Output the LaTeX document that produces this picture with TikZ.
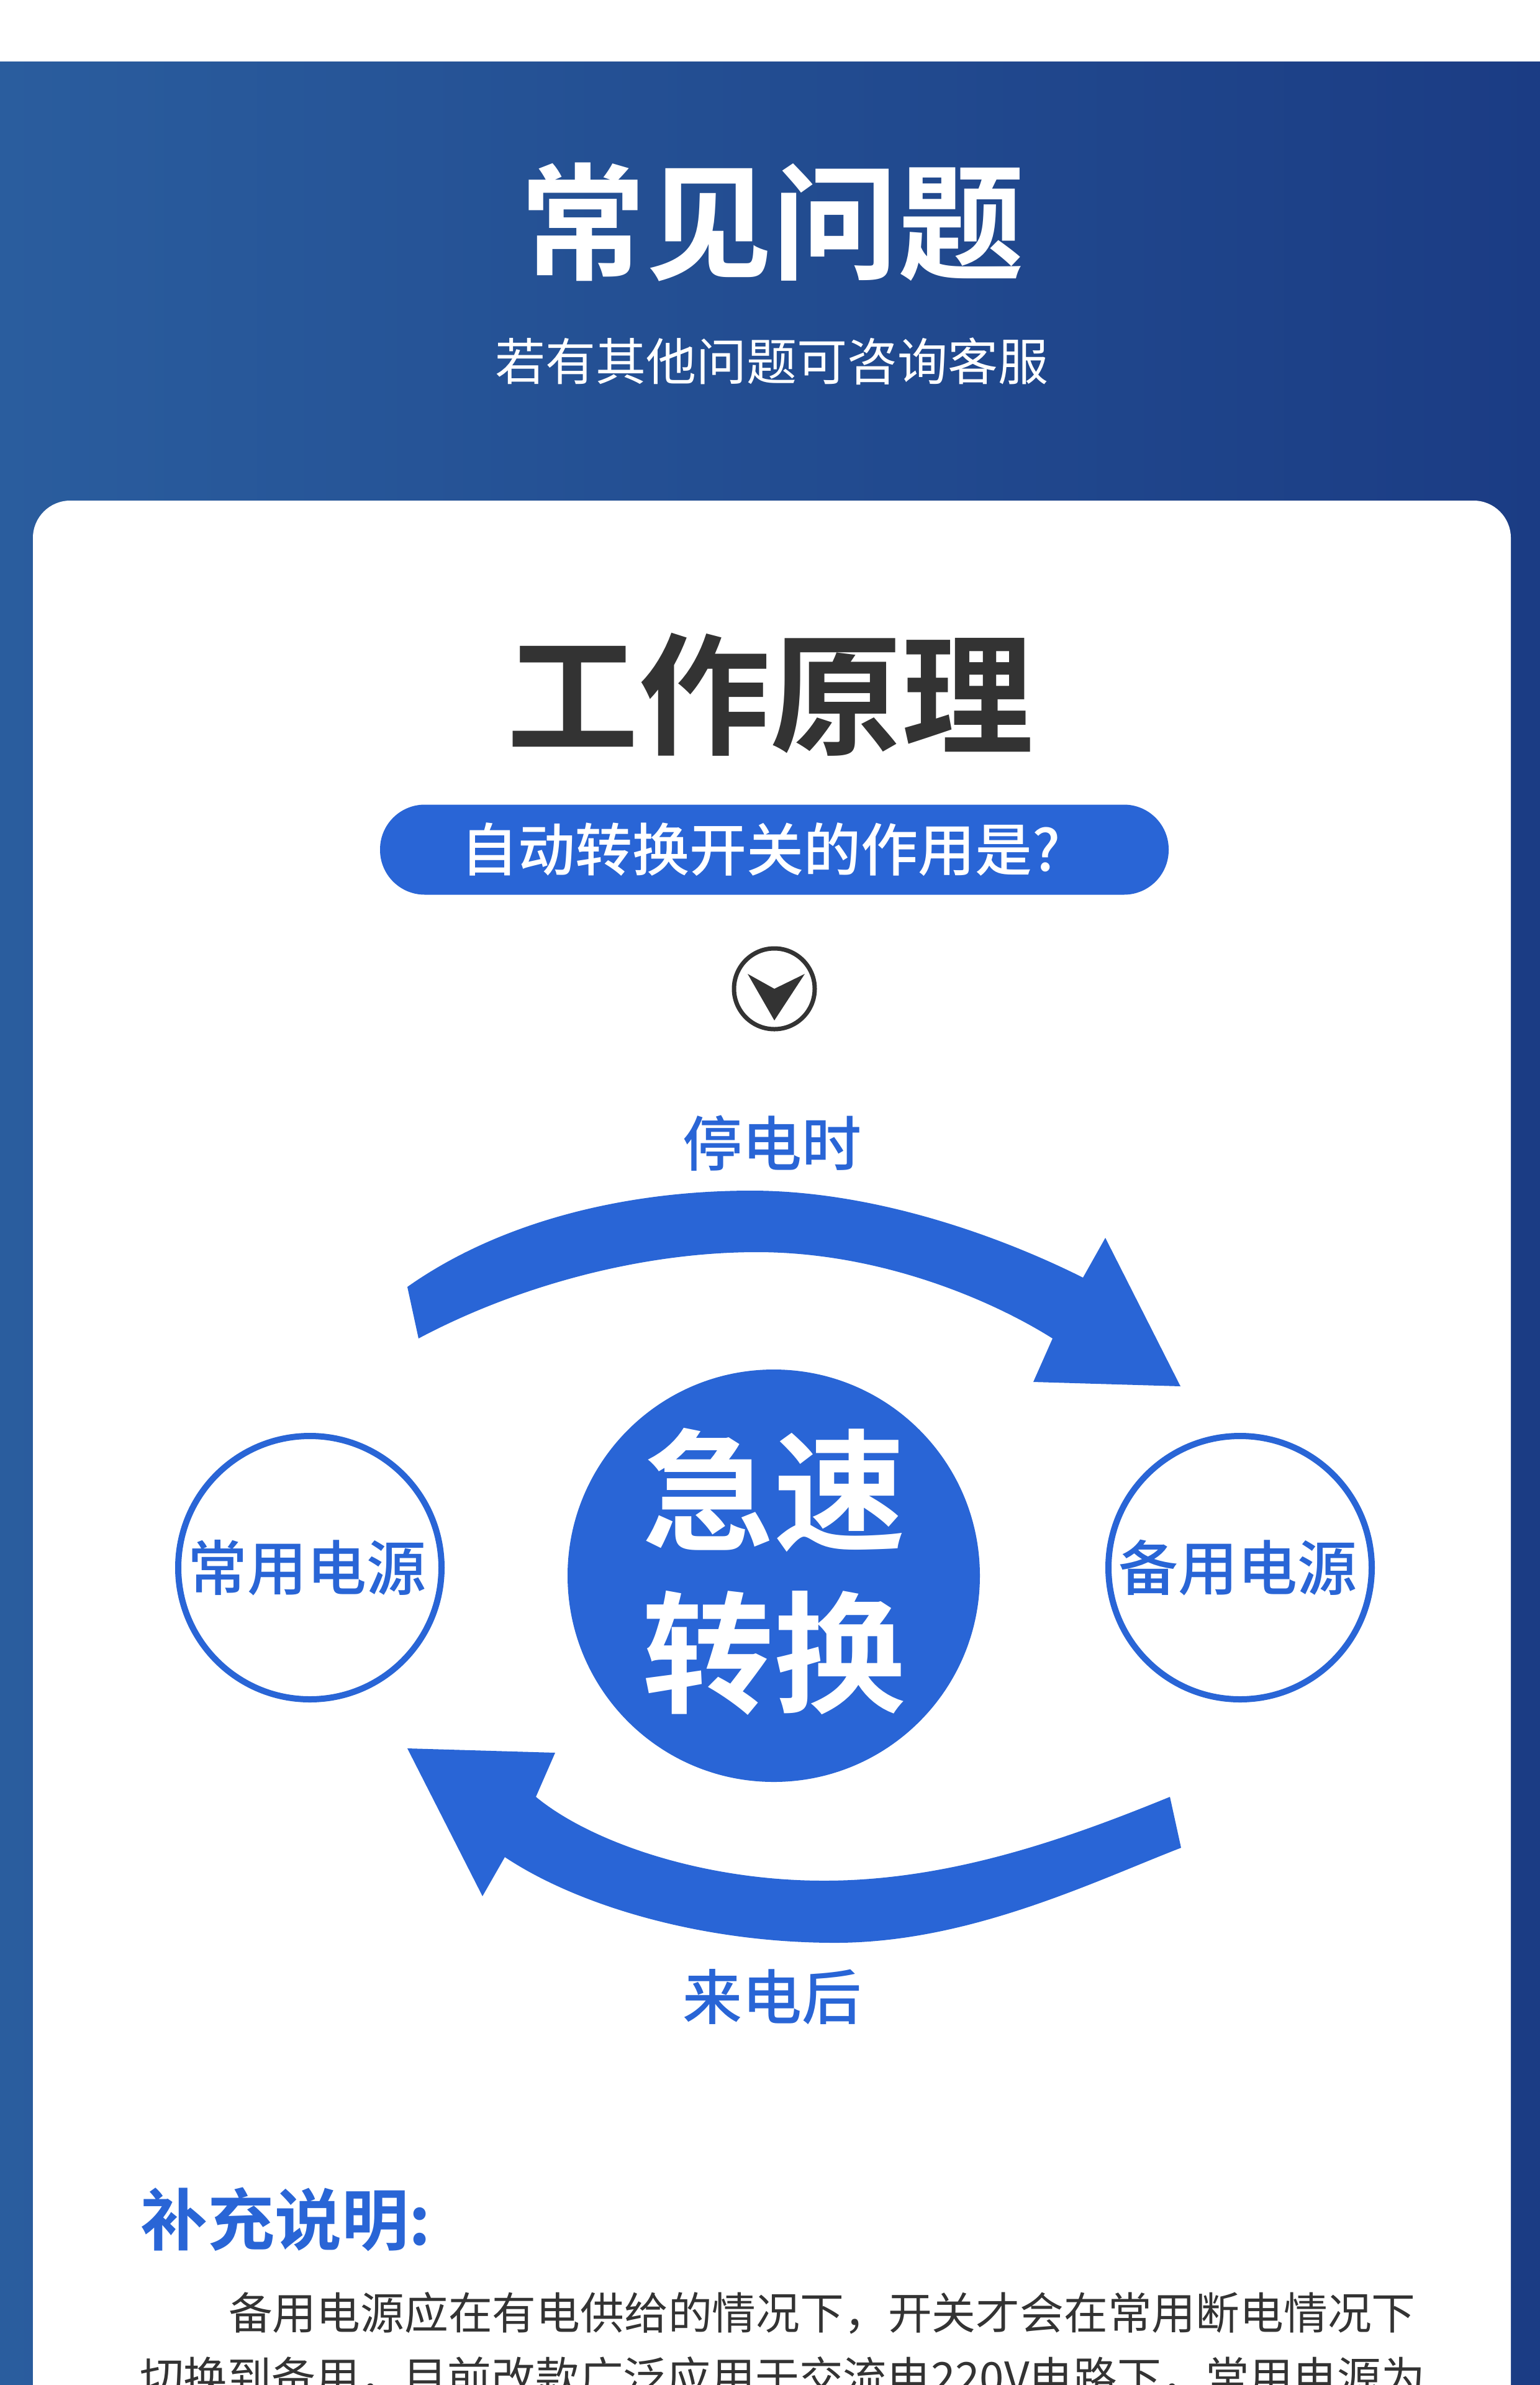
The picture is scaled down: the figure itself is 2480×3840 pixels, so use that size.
\documentclass[tikz,border=0pt]{standalone}
\usepackage{xcolor}
\usepackage{fontspec}
\setmainfont[BoldFont={Noto Sans CJK SC Bold}]{Noto Sans CJK SC}
\newfontfamily\midweight{Noto Sans CJK SC Medium}
\usetikzlibrary{shapes,positioning}
\definecolor{switchblue}{HTML}{2965D6}
\definecolor{darktext}{HTML}{333333}
\definecolor{bandleft}{HTML}{2A5D9E}
\definecolor{bandright}{HTML}{1B3C84}
\newcommand{\sized}[1]{\fontsize{#1}{#1}\selectfont}
\newcommand{\widecomma}{\symbol{"FF0C}}
\tikzset{
    plain/.style={inner sep=0pt, outer sep=0pt},
    sourcering/.style={plain, circle, draw=switchblue, line width=10pt, fill=white, minimum size=424pt, text=switchblue, font=\sized{96}\midweight},
    flowlabel/.style={plain, text=switchblue, font=\sized{96}\midweight},
    bodyline/.style={plain, anchor=west, text=darktext, font=\sized{70.8}}
}

\begin{document}
\begin{tikzpicture}[x=1pt, y=-1pt]
    \useasboundingbox (0,0) rectangle (2480,3840);
    \clip (0,0) rectangle (2480,3840);

    % Header band and white card
    \fill[white] (0,0) rectangle (2480,3840);
    \shade[left color=bandleft, right color=bandright] (0,100) rectangle (2480,3840);
    \fill[white, rounded corners=60pt] (53,806) rectangle (2433,3960);

    % Header texts
    \node[plain, text=white, font=\sized{203}\bfseries] (title) at (1243,358) {常见问题};
    \node[plain, text=white, font=\sized{81}] (subtitle) at (1243,582) {若有其他问题可咨询客服};

    % Heading of the card
    \node[plain, text=darktext, font=\sized{212}\bfseries] (heading) at (1240,1118) {工作原理};
    \node[plain, rectangle, rounded corners=72pt, fill=switchblue, minimum width=1270pt, minimum height=145pt] (question) at (1247,1368) {};
    \node[plain, text=white, font=\sized{92}\midweight] (questiontext) at (1225,1368) {自动转换开关的作用是?};

    % Small down marker
    \node[plain, circle, draw=darktext, line width=7pt, minimum size=130pt] (marker) at (1247,1592) {};
    \fill[darktext] (1204,1568) -- (1247,1592) -- (1296,1568) -- (1247,1643) -- cycle;

    % Upper arrow
    \fill[switchblue] (656,2072) .. controls (800,1970) and (1000,1917) .. (1210,1917)
        .. controls (1400,1917) and (1600,1985) .. (1744,2057)
        -- (1780,1993) -- (1901,2232) -- (1664,2225) -- (1695,2155)
        .. controls (1600,2095) and (1420,2016) .. (1219,2016)
        .. controls (1030,2016) and (830,2072) .. (674,2155) -- cycle;

    % Lower arrow
    \fill[switchblue] (1902,2975) .. controls (1760,3030) and (1560,3128) .. (1345,3128)
        .. controls (1130,3128) and (930,3068) .. (813,2990)
        -- (777,3053) -- (656,2815) -- (894,2822) -- (863,2893)
        .. controls (950,2965) and (1130,3028) .. (1327,3028)
        .. controls (1530,3028) and (1720,2960) .. (1884,2893) -- cycle;

    % Labels of the arrows
    \node[flowlabel] (failure) at (1243,1841) {停电时};
    \node[flowlabel] (restore) at (1243,3215) {来电后};

    % Centre disc
    \node[plain, circle, fill=switchblue, minimum size=664pt] (disc) at (1246,2537) {};
    \node[plain, text=white, font=\sized{212}\bfseries] (fast) at (1246,2399) {急速};
    \node[plain, text=white, font=\sized{212}\bfseries] (swap) at (1246,2661) {转换};

    % Both power sources
    \node[sourcering] (mainsource) at (499,2524) {\kern-10pt 常用电源};
    \node[sourcering] (backupsource) at (1997,2524) {\kern-8pt 备用电源};

    % Notes at the bottom
    \node[plain, anchor=west, text=switchblue, font=\sized{108}\bfseries] (notehead) at (226,3573) {补充说明:};
    \node[bodyline] (noteone) at (368,3724) {备用电源应在有电供给的情况下\widecomma 开关才会在常用断电情况下};
    \node[bodyline] (notetwo) at (225,3828) {切换到备用\widecomma 目前改款广泛应用于交流电220V电路下\widecomma 常用电源为};
\end{tikzpicture}
\end{document}
